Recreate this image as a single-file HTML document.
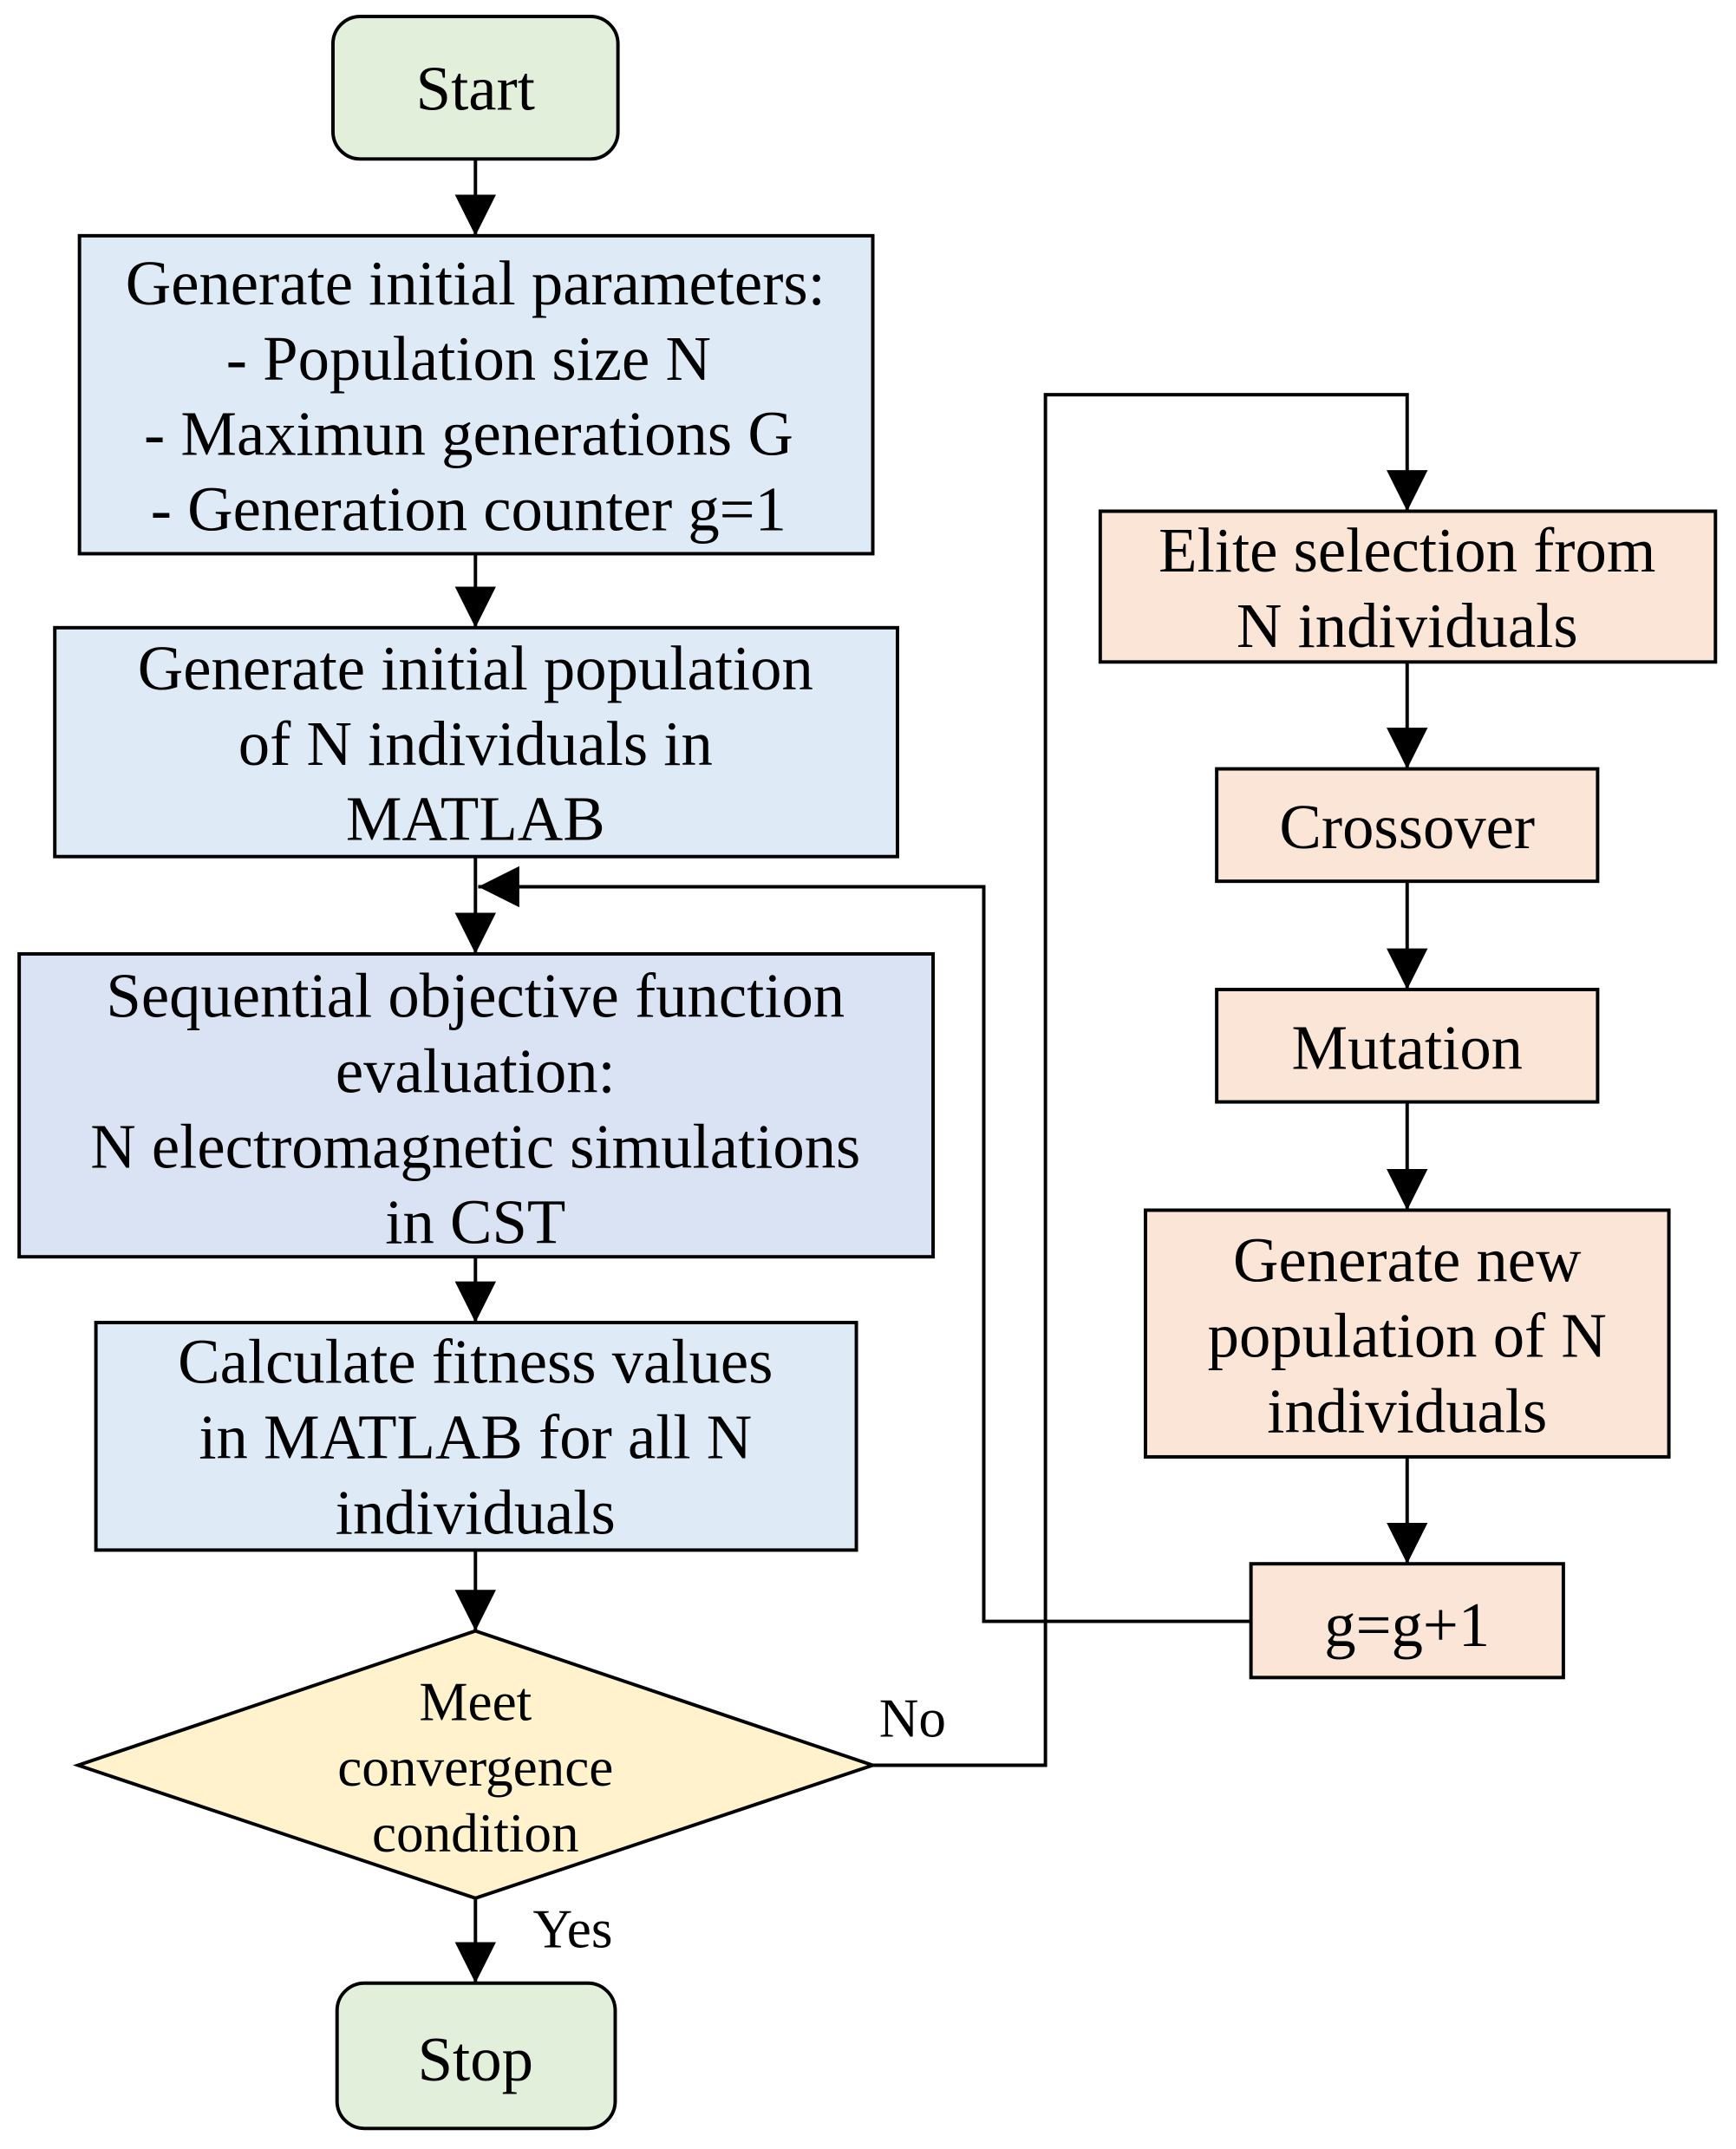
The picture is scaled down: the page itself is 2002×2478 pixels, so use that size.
<!DOCTYPE html>
<html><head><style>html,body{margin:0;padding:0;background:#fff}svg{display:block}</style></head>
<body>
<svg width="2002" height="2478" viewBox="0 0 1267 1568" preserveAspectRatio="none" xmlns="http://www.w3.org/2000/svg" font-family="'Liberation Serif',serif" text-anchor="middle">
<defs><marker id="a" markerWidth="30" markerHeight="30" refX="30" refY="15" orient="auto" markerUnits="userSpaceOnUse"><path d="M0,0 L30,15 L0,30 z" fill="#000"/></marker></defs>
<g stroke="#000" stroke-width="2.5" fill="none">
<line x1="347" y1="116" x2="347" y2="172" marker-end="url(#a)"/>
<line x1="347" y1="404" x2="347" y2="458" marker-end="url(#a)"/>
<line x1="347" y1="625" x2="347" y2="696" marker-end="url(#a)"/>
<line x1="347" y1="917" x2="347" y2="965" marker-end="url(#a)"/>
<line x1="347" y1="1131" x2="347" y2="1190" marker-end="url(#a)"/>
<line x1="347" y1="1385" x2="347" y2="1447" marker-end="url(#a)"/>
<polyline points="637,1288 763,1288 763,288 1027,288 1027,373" marker-end="url(#a)"/>
<line x1="1027" y1="483" x2="1027" y2="561" marker-end="url(#a)"/>
<line x1="1027" y1="643" x2="1027" y2="722" marker-end="url(#a)"/>
<line x1="1027" y1="804" x2="1027" y2="883" marker-end="url(#a)"/>
<line x1="1027" y1="1063" x2="1027" y2="1141" marker-end="url(#a)"/>
<polyline points="913,1183 718,1183 718,647 349,647" marker-end="url(#a)"/>
</g>
<g stroke="#000" stroke-width="2.5">
<rect x="243" y="12" width="208" height="104" rx="20" fill="#e2efda"/>
<rect x="58" y="172" width="579" height="232" fill="#deebf7"/>
<rect x="40" y="458" width="615" height="167" fill="#deebf7"/>
<rect x="14" y="696" width="667" height="221" fill="#dae3f3"/>
<rect x="70" y="965" width="555" height="166" fill="#deebf7"/>
<polygon points="347,1190 637,1288 347,1385 57,1288" fill="#fff2cc"/>
<rect x="246" y="1447" width="203" height="106" rx="20" fill="#e2efda"/>
<rect x="803" y="373" width="449" height="110" fill="#fbe5d6"/>
<rect x="888" y="561" width="278" height="82" fill="#fbe5d6"/>
<rect x="888" y="722" width="278" height="82" fill="#fbe5d6"/>
<rect x="836" y="883" width="382" height="180" fill="#fbe5d6"/>
<rect x="913" y="1141" width="228" height="83" fill="#fbe5d6"/>
</g>
<g font-size="46" fill="#000">
<text x="347" y="222">Generate initial parameters:</text>
<text x="342" y="277">- Population size N</text>
<text x="342" y="332">- Maximun generations G</text>
<text x="342" y="387">- Generation counter g=1</text>
<text x="347" y="503">Generate initial population</text>
<text x="347" y="558">of N individuals in</text>
<text x="347" y="613">MATLAB</text>
<text x="347" y="742">Sequential objective function</text>
<text x="347" y="797">evaluation:</text>
<text x="347" y="852">N electromagnetic simulations</text>
<text x="347" y="907">in CST</text>
<text x="347" y="1009">Calculate fitness values</text>
<text x="347" y="1064">in MATLAB for all N</text>
<text x="347" y="1119">individuals</text>
<text x="347" y="80">Start</text>
<text x="347" y="1518">Stop</text>
<text x="1027" y="417">Elite selection from</text>
<text x="1027" y="472">N individuals</text>
<text x="1027" y="619">Crossover</text>
<text x="1027" y="780">Mutation</text>
<text x="1027" y="935">Generate new</text>
<text x="1027" y="990">population of N</text>
<text x="1027" y="1045">individuals</text>
<text x="1027" y="1201">g=g+1</text>
</g>
<g font-size="40" fill="#000">
<text x="347" y="1255">Meet</text>
<text x="347" y="1303">convergence</text>
<text x="347" y="1351">condition</text>
<text x="666" y="1267">No</text>
<text x="418" y="1421">Yes</text>
</g>
</svg>
</body></html>
